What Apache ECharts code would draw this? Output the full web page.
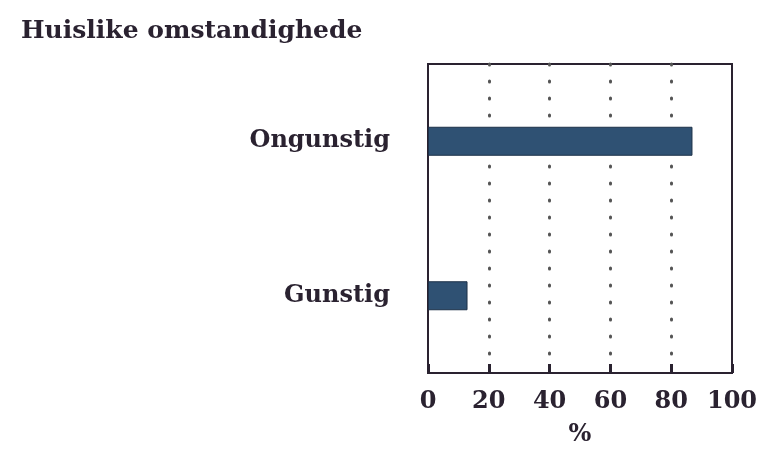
<!DOCTYPE html>
<html>
<head>
<meta charset="utf-8">
<script src="https://cdn.jsdelivr.net/npm/echarts@6/dist/echarts.min.js"></script>
<style>
  html, body { margin: 0; padding: 0; background: #fff; }
  #chart { width: 764px; height: 450px; }
</style>
</head>
<body>
<div id="chart"></div>
<script>
// data
const categories = ["Gunstig", "Ongunstig"];
const percentages = [13, 87];
const xTicks = [0, 20, 40, 60, 80, 100];

const ink = "#2a2230";
const font = "DejaVu Serif";

const chart = echarts.init(document.getElementById("chart"));
chart.setOption({
  animation: false,
  title: {
    text: "Huislike omstandighede",
    left: 16,
    top: 14,
    textStyle: { color: ink, fontFamily: font, fontSize: 25, fontWeight: "bold" }
  },
  grid: {
    left: 428,
    right: 32,
    top: 64,
    bottom: 77,
    outerBoundsMode: "none",
    containLabel: false,
    show: true,
    borderColor: ink,
    borderWidth: 2
  },
  xAxis: {
    type: "value",
    min: xTicks[0],
    max: xTicks[xTicks.length - 1],
    interval: 20,
    name: "%",
    nameLocation: "middle",
    nameGap: 50,
    nameTextStyle: { color: ink, fontFamily: font, fontSize: 24, fontWeight: "bold" },
    axisLine: { show: true, lineStyle: { color: ink, width: 2 } },
    axisTick: { show: true, inside: true, length: 9, lineStyle: { color: ink, width: 3 } },
    axisLabel: { color: ink, fontFamily: font, fontSize: 24, fontWeight: "bold", margin: 17 },
    splitLine: {
      show: true,
      showMinLine: false,
      showMaxLine: false,
      lineStyle: { color: "#555", width: 3, type: [1, 16], cap: "round" }
    }
  },
  yAxis: {
    type: "category",
    data: categories,
    axisLine: { show: true, lineStyle: { color: ink, width: 2 } },
    axisTick: { show: false },
    axisLabel: { color: ink, fontFamily: font, fontSize: 24, fontWeight: "bold", margin: 38 }
  },
  series: [{
    type: "bar",
    data: percentages,
    barWidth: 29,
    itemStyle: { color: "#2f5173", borderColor: "#1d3148", borderWidth: 1 }
  }]
});
</script>
</body>
</html>
